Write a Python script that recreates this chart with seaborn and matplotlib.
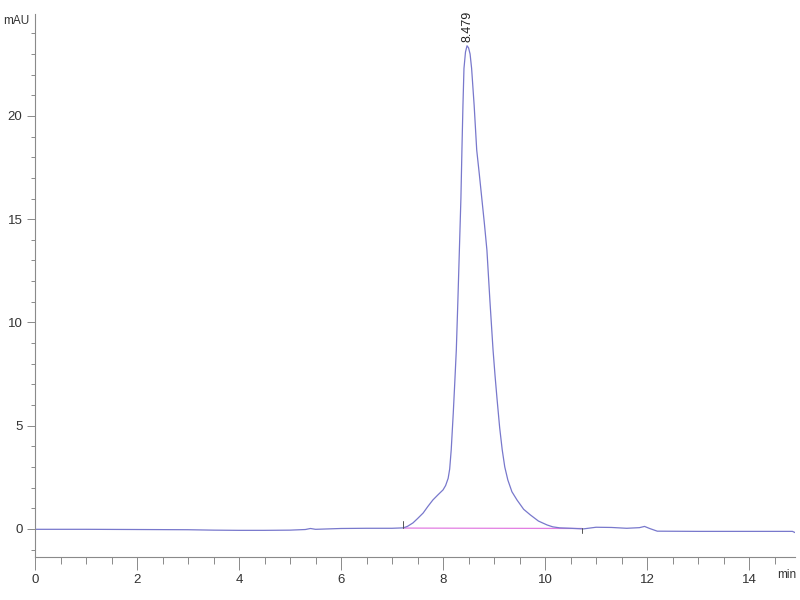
import pandas as pd
import seaborn as sns
import matplotlib.pyplot as plt

# chromatogram trace (min, mAU)
time = [0.0, 1.0, 2.0, 3.0, 3.5, 4.0, 4.5, 5.0, 5.3, 5.4, 5.5, 6.0, 6.5, 7.0,
        7.22, 7.30, 7.41, 7.50, 7.61, 7.70, 7.80, 7.90, 8.0, 8.05, 8.10, 8.13,
        8.16, 8.20, 8.23, 8.26, 8.29, 8.32, 8.35, 8.37, 8.39, 8.41, 8.44, 8.47,
        8.50, 8.53, 8.56, 8.61, 8.66, 8.71, 8.76, 8.81, 8.86, 8.92, 8.98, 9.02,
        9.06, 9.11, 9.16, 9.21, 9.27, 9.35, 9.45, 9.58, 9.71, 9.87, 10.04, 10.15,
        10.29, 10.5, 10.75, 11.0, 11.3, 11.6, 11.85, 11.95, 12.05, 12.2, 13.0,
        14.0, 14.85, 14.92]
signal = [-0.02, -0.02, -0.03, -0.04, -0.06, -0.07, -0.07, -0.06, -0.03, 0.02,
          -0.02, 0.02, 0.03, 0.03, 0.05, 0.12, 0.29, 0.50, 0.77, 1.08, 1.40,
          1.65, 1.89, 2.10, 2.45, 2.90, 3.83, 5.6, 7.1, 8.67, 11.0, 13.5, 16.0,
          18.35, 20.5, 22.3, 23.1, 23.4, 23.3, 23.0, 22.3, 20.5, 18.35, 17.2,
          16.0, 14.8, 13.5, 11.0, 8.67, 7.4, 6.25, 4.9, 3.83, 3.0, 2.37, 1.80,
          1.40, 0.95, 0.68, 0.38, 0.19, 0.10, 0.05, 0.03, 0.0, 0.08, 0.07, 0.03,
          0.06, 0.12, 0.02, -0.11, -0.12, -0.12, -0.12, -0.2]

# integration baseline of the main peak
base_time = [7.22, 10.72]
base_signal = [0.04, 0.02]
peak_rt = 8.479
peak_height = 23.4

df = pd.DataFrame({"time": time, "signal": signal})
base = pd.DataFrame({"time": base_time, "signal": base_signal})

sns.set_style("white")
plt.rcParams["font.family"] = ["Liberation Sans", "DejaVu Sans"]

fig = plt.figure(figsize=(8, 6), dpi=100)
ax = fig.add_axes([0.04375, 0.0717, 0.95, 0.905])

sns.lineplot(data=base, x="time", y="signal", color="#e27de2", linewidth=0.9, ax=ax)
sns.lineplot(data=df, x="time", y="signal", color="#7878cc", linewidth=0.9,
             sort=False, ax=ax)

# event marks at the baseline ends
ax.plot([base_time[0]] * 2, [base_signal[0], base_signal[0] + 0.35], color="#555555", lw=0.7)
ax.plot([base_time[1]] * 2, [base_signal[1], base_signal[1] - 0.2], color="#555555", lw=0.7)

ax.text(peak_rt, peak_height + 0.2, "8.479", rotation=90, ha="center", va="bottom",
        fontsize=9, color="#222222")

ax.set_xlim(0, 14.9)
ax.set_ylim(-1.36, 24.94)
ax.set_xticks([0, 2, 4, 6, 8, 10, 12, 14])
ax.set_xticks([i * 0.5 for i in range(30)], minor=True)
ax.set_yticks([0, 5, 10, 15, 20])
ax.set_yticks(list(range(-1, 25)), minor=True)
ax.set_xlabel("")
ax.set_ylabel("")

for s in ["top", "right"]:
    ax.spines[s].set_visible(False)
for s in ["left", "bottom"]:
    ax.spines[s].set_color("#8a8a8a")
    ax.spines[s].set_linewidth(0.8)

ax.tick_params(axis="x", which="major", length=9, width=0.7, color="#8a8a8a",
               labelsize=9.5, labelcolor="#333333", pad=3, bottom=True)
ax.tick_params(axis="x", which="minor", length=5, width=0.7, color="#8a8a8a", bottom=True)
ax.tick_params(axis="y", which="major", length=6, width=0.7, color="#8a8a8a",
               labelsize=9.5, labelcolor="#333333", pad=3, left=True)
ax.tick_params(axis="y", which="minor", length=3, width=0.7, color="#8a8a8a", left=True)

fig.text(0.004, 0.965, "mAU", fontsize=8.5, color="#333333", va="center", ha="left")
fig.text(0.972, 0.041, "min", fontsize=8.5, color="#333333", va="center", ha="left")

fig.savefig("out.png", dpi=100)
